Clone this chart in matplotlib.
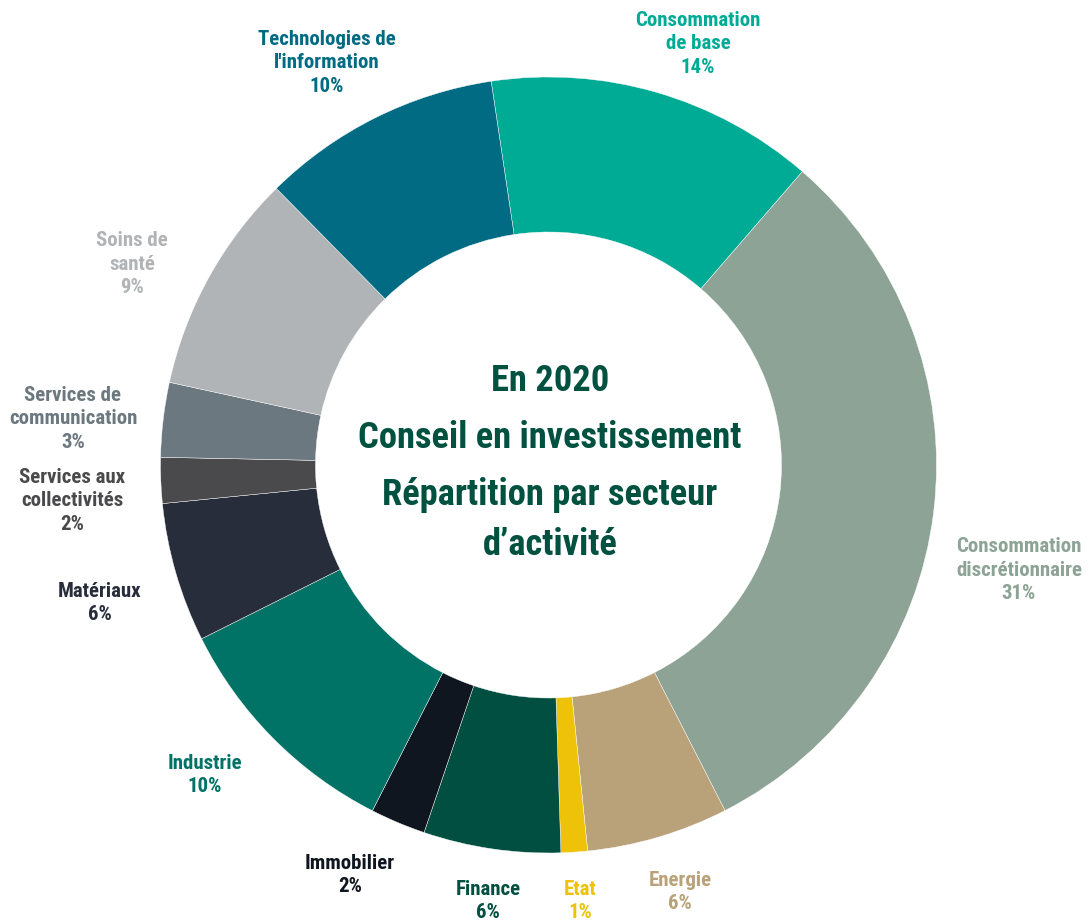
import matplotlib
matplotlib.use("Agg")
import matplotlib.pyplot as plt

# sector shares (%), clockwise from the top
sectors = ["Consommation\nde base", "Consommation\ndiscrétionnaire", "Energie", "Etat",
           "Finance", "Immobilier", "Industrie", "Matériaux",
           "Services aux\ncollectivités", "Services de\ncommunication", "Soins de\nsanté",
           "Technologies de\nl'information"]
shares = [13.7, 31.1, 5.9, 1.1, 5.7, 2.3, 10.1, 5.8, 1.9, 3.1, 9.2, 10.0]
colors = ["#00AB96", "#8CA395", "#B9A279", "#EEC209", "#004F40", "#10161F",
          "#007266", "#282D3B", "#4A4A4C", "#6C7880", "#B0B4B7", "#006B82"]
label_colors = ["#00AB96", "#8CA395", "#B9A279", "#EEC209", "#004F40", "#10161F",
                "#007266", "#282D3B", "#4A4A4C", "#6C7880", "#B0B4B7", "#006B82"]
# label anchor (pixels from top-left)
label_pos = [(698, 44), (1019, 570), (680, 892), (580, 901), (488, 901), (350, 875),
             (205, 775), (100, 603), (72, 501), (73, 419), (132, 264), (327, 63)]

title_lines = ["En 2020", "Conseil en investissement", "Répartition par secteur", "d\u2019activité"]
title_y = [381, 438, 495, 545]

W, H = 1091, 921
FONT = ["Roboto Condensed", "Archivo Narrow", "Barlow Condensed", "DejaVu Sans"]

fig = plt.figure(figsize=(W / 100, H / 100), dpi=100)
ax = fig.add_axes([0, 0, 1, 1])
ax.set_xlim(0, W)
ax.set_ylim(0, H)
ax.set_aspect("equal")
ax.axis("off")

cx, cy, r_out, r_in = 548.5, H - 465, 388, 233
ax.pie(shares, colors=colors, startangle=98.5, counterclock=False,
       center=(cx, cy), radius=r_out,
       wedgeprops=dict(width=r_out - r_in, linewidth=0.3, edgecolor="white"))
ax.set_xlim(0, W)
ax.set_ylim(0, H)

for name, val, col, (x, y) in zip(sectors, shares, label_colors, label_pos):
    ax.text(x, H - y, f"{name}\n{round(val)}%", color=col, ha="center", va="center",
            fontsize=15, fontweight="bold", family=FONT, linespacing=1.27)

for line, y in zip(title_lines, title_y):
    ax.text(550, H - y, line, color="#00513F", ha="center", va="center",
            fontsize=26.3, fontweight="bold", family=FONT)

fig.savefig("out.png", dpi=100)
